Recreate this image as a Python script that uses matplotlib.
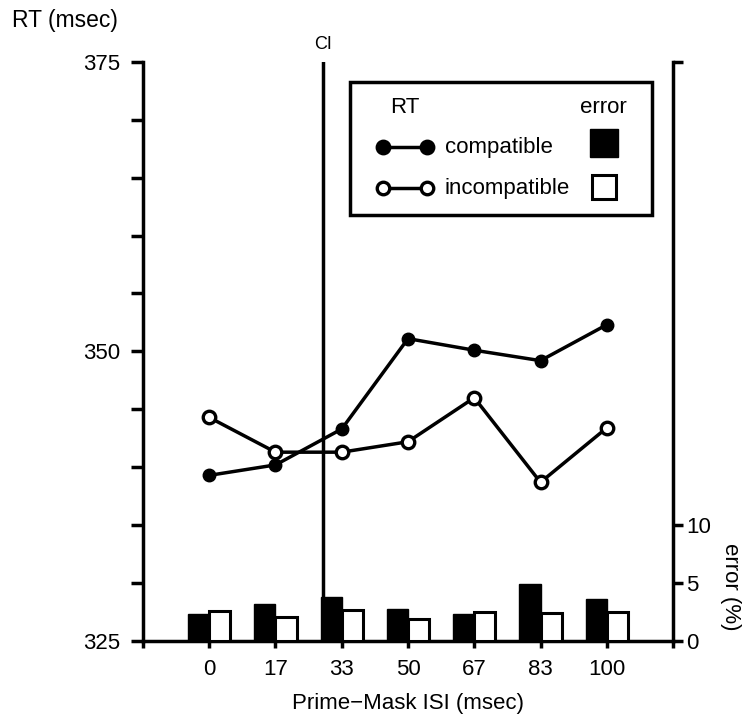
import numpy as np
import matplotlib
matplotlib.use("Agg")
import matplotlib.pyplot as plt
import matplotlib.transforms as mtransforms
from matplotlib.patches import Rectangle
from matplotlib.lines import Line2D

plt.rcParams['font.family'] = ['Liberation Sans', 'DejaVu Sans']

# data
isi_labels = ['0', '17', '33', '50', '67', '83', '100']
isi_ms = [0, 17, 33, 50, 67, 83, 100]
rt_compatible = [339.3, 340.2, 343.3, 351.1, 350.1, 349.2, 352.3]
rt_incompatible = [344.3, 341.3, 341.3, 342.2, 346.0, 338.7, 343.4]
err_compatible = [2.3, 3.2, 3.8, 2.8, 2.3, 4.9, 3.6]
err_incompatible = [2.6, 2.1, 2.7, 1.9, 2.5, 2.4, 2.5]
ci_ms = 28.5

LW = 2.5
FS = 16

fig = plt.figure(figsize=(7.45, 7.16), dpi=100)
ax = fig.add_axes([0.1919, 0.1047, 0.7115, 0.8091])
ax2 = ax.twinx()

pos = np.arange(1, len(isi_labels) + 1)

# RT lines
ax.plot(pos, rt_compatible, '-o', color='black', lw=LW, ms=9,
        mfc='black', mec='black', zorder=5, clip_on=False)
ax.plot(pos, rt_incompatible, '-o', color='black', lw=LW, ms=9,
        mfc='white', mec='black', mew=2.4, zorder=5, clip_on=False)

# error bars on the right scale
w = 0.32
ax2.bar(pos - w / 2, err_compatible, width=w, color='black',
        edgecolor='black', linewidth=1)
ax2.bar(pos + w / 2, err_incompatible, width=w, color='white',
        edgecolor='black', linewidth=2.2)

# CI line
ci_pos = np.interp(ci_ms, isi_ms, pos)
ax.axvline(ci_pos, color='black', lw=LW, zorder=4)
trans = mtransforms.blended_transform_factory(ax.transData, ax.transAxes)
ax.text(ci_pos, 1.029, 'CI', transform=trans, ha='center', va='center',
        fontsize=13)

# axes limits and ticks
ax.set_xlim(0, len(isi_labels) + 1)
ax.set_ylim(325, 375)
ax2.set_ylim(0, 50)

ax.set_xticks(np.arange(0, len(isi_labels) + 2))
ax.set_xticklabels([''] + isi_labels + [''], fontsize=FS)
ax.set_yticks(np.arange(325, 376, 5))
ax.set_yticklabels(['325', '', '', '', '', '350', '', '', '', '', '375'],
                   fontsize=FS)
ax2.set_yticks([0, 5, 10, 50])
ax2.set_yticklabels(['0', '5', '10', ''], fontsize=FS)

ax.tick_params(axis='x', direction='out', length=5, width=LW, pad=8)
ax.tick_params(axis='y', direction='out', length=8.6, width=LW, pad=8)
ax2.tick_params(axis='y', direction='out', length=7.5, width=LW, pad=2)

for s in ['top', 'right']:
    ax.spines[s].set_visible(False)
for s in ['left', 'bottom']:
    ax.spines[s].set_linewidth(LW)
for s in ['top', 'left', 'bottom']:
    ax2.spines[s].set_visible(False)
ax2.spines['right'].set_linewidth(LW)

ax.set_xlabel('Prime\u2212Mask ISI (msec)', fontsize=FS, labelpad=9)
fig.text(12 / 745, 1 - 20 / 716, 'RT (msec)', fontsize=16.5, ha='left',
         va='center')
fig.text(731 / 745, 1 - 587 / 716, 'error (%)', fontsize=FS, ha='center',
         va='center', rotation=270)

# legend drawn by hand in axes fraction
ta = ax2.transAxes
ax2.add_patch(Rectangle((0.3906, 0.7354), 0.5698, 0.2296, transform=ta,
                        facecolor='white', edgecolor='black', lw=LW,
                        zorder=10))
ax2.text(0.4943, 0.9218, 'RT', transform=ta, ha='center', va='center',
         fontsize=FS, zorder=11)
ax2.text(0.8679, 0.9218, 'error', transform=ta, ha='center', va='center',
         fontsize=FS, zorder=11)
rows = [(0.8527, 'black', 'compatible'), (0.782, 'white', 'incompatible')]
for y, fc, label in rows:
    ax2.add_line(Line2D([0.4528, 0.5358], [y, y], transform=ta, color='black',
                        lw=LW, marker='o', ms=9, mfc=fc, mec='black',
                        mew=2.4, zorder=11))
    ax2.text(0.5698, y, label, transform=ta, ha='left', va='center',
             fontsize=FS, zorder=11)
ax2.add_line(Line2D([0.8698], [0.8602], transform=ta, marker='s', ms=20,
                    mfc='black', mec='black', zorder=11))
ax2.add_line(Line2D([0.8698], [0.7846], transform=ta, marker='s', ms=17,
                    mfc='white', mec='black', mew=2.2, zorder=11))

fig.savefig('out.png', dpi=100)
